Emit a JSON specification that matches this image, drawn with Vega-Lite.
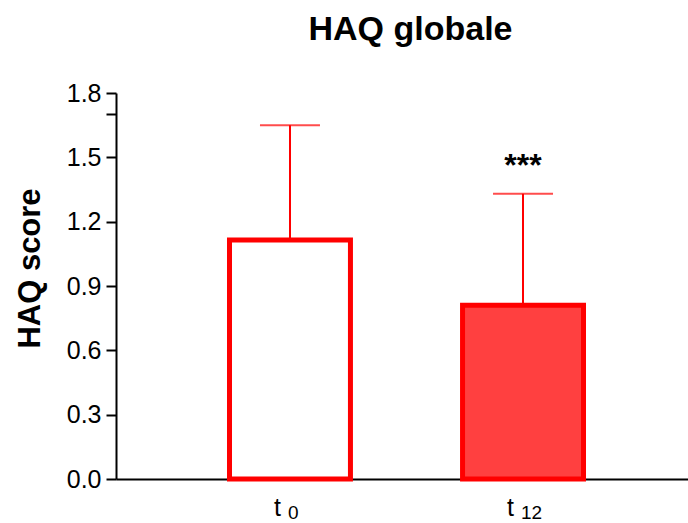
{
  "$schema": "https://vega.github.io/schema/vega-lite/v6.json",
  "autosize": "none",
  "width": 581,
  "height": 386,
  "padding": {"left": 116, "top": 93, "right": 0, "bottom": 44},
  "background": "white",
  "title": {"text": "HAQ globale", "font": "Liberation Sans", "fontSize": 34, "fontWeight": "bold", "color": "black", "anchor": "middle", "frame": "group", "offset": 34, "dx": 4},
  "config": {"view": {"stroke": null}, "font": "Liberation Sans"},
  "data": {"values": [
    {"group": "t0", "t": "t", "sub": "0", "mean": 1.115, "upper": 1.65, "sig": ""},
    {"group": "t12", "t": "t", "sub": "12", "mean": 0.81, "upper": 1.33, "sig": "***"}
  ]},
  "encoding": {
    "x": {"field": "group", "type": "nominal", "sort": null,
      "scale": {"paddingInner": 0.481, "paddingOuter": 0.487},
      "axis": {"labels": false, "ticks": false, "title": null, "domainColor": "black", "domainWidth": 2}}
  },
  "layer": [
    {"mark": {"type": "rule", "color": "#ff0000", "strokeWidth": 2},
     "encoding": {
       "y": {"field": "mean", "type": "quantitative", "scale": {"domain": [0, 1.8], "nice": false, "zero": true},
         "axis": {"values": [0, 0.3, 0.6, 0.9, 1.2, 1.5, 1.7, 1.8], "labelExpr": "datum.value == 1.7 ? '' : format(datum.value, '.1f')",
           "labelFont": "Liberation Sans", "labelFontSize": 25, "labelColor": "black", "labelPadding": 5,
           "tickColor": "black", "tickWidth": 2, "tickSize": 10, "domainColor": "black", "domainWidth": 2, "grid": false,
           "title": "HAQ score", "titleFont": "Liberation Sans", "titleFontSize": 31, "titleFontWeight": "bold", "titleColor": "black", "titlePadding": 20, "titleY": 175}},
       "y2": {"field": "upper"}}},
    {"mark": {"type": "tick", "color": "#ff0000", "thickness": 2, "size": 60, "orient": "horizontal"},
     "encoding": {"y": {"field": "upper", "type": "quantitative"}}},
    {"mark": {"type": "bar", "stroke": "#ff0000", "strokeWidth": 5, "strokeJoin": "miter"},
     "encoding": {
       "y": {"field": "mean", "type": "quantitative"},
       "fill": {"field": "group", "type": "nominal", "scale": {"domain": ["t0", "t12"], "range": ["#ffffff", "#ff4040"]}, "legend": null}}},
    {"mark": {"type": "text", "font": "Liberation Sans", "fontSize": 32, "fontWeight": "bold", "color": "black", "dy": -18, "baseline": "alphabetic"},
     "encoding": {"y": {"field": "upper", "type": "quantitative"}, "text": {"field": "sig"}}},
    {"mark": {"type": "text", "font": "Liberation Sans", "fontSize": 25, "color": "black", "align": "right", "dx": -9, "baseline": "alphabetic"},
     "encoding": {"y": {"datum": -0.173}, "text": {"field": "t"}}},
    {"mark": {"type": "text", "font": "Liberation Sans", "fontSize": 19, "color": "black", "align": "left", "dx": -2, "baseline": "alphabetic"},
     "encoding": {"y": {"datum": -0.188}, "text": {"field": "sub"}}}
  ]
}
